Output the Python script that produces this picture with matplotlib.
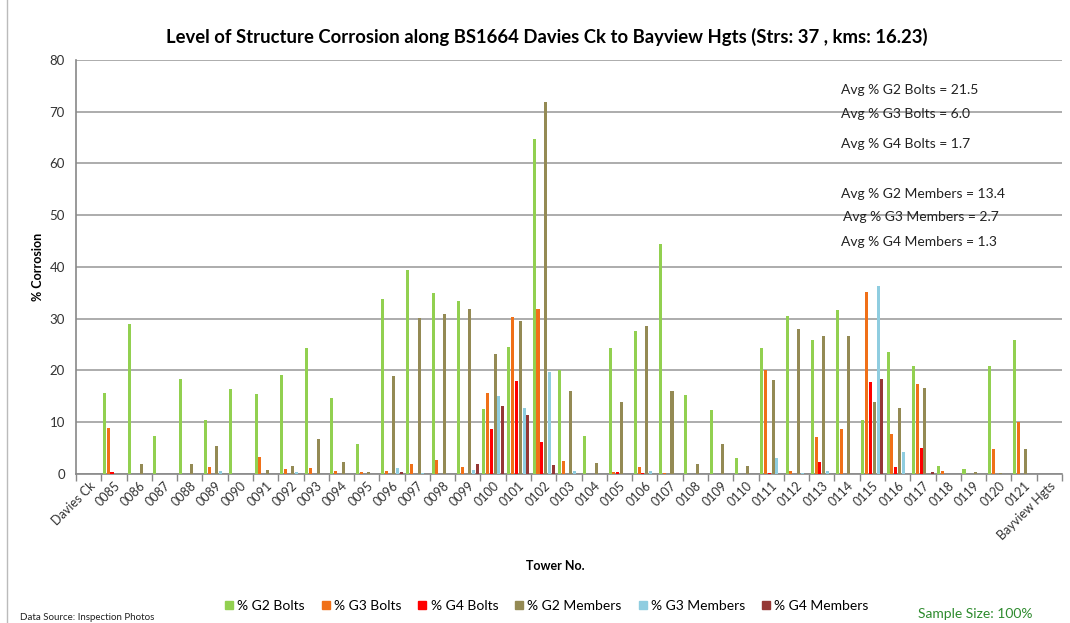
import numpy as np
import matplotlib.pyplot as plt
from matplotlib.lines import Line2D

plt.rcParams['font.family'] = ['Lato', 'DejaVu Sans']

towers = ["Davies Ck"] + ["%04d" % n for n in range(85, 122)] + ["Bayview Hgts"]

# % corrosion per tower (terminals at each end have no data)
g2_bolts = [0, 15.7, 29.0, 7.4, 18.4, 10.5, 16.5, 15.5, 19.1, 24.3, 14.6, 5.7, 33.9, 39.5,
            35.0, 33.5, 12.6, 24.6, 64.7, 20.0, 7.4, 24.3, 27.7, 44.5, 15.3, 12.3, 3.0,
            24.3, 30.6, 25.9, 31.6, 10.5, 23.6, 20.9, 1.6, 0.9, 20.9, 25.9, 0]
g3_bolts = [0, 8.8, 0, 0, 0, 1.3, 0, 3.2, 0.9, 1.1, 0.6, 0.3, 0.6, 2.0,
            2.65, 1.4, 15.7, 30.3, 31.8, 2.5, 0, 0.3, 1.4, 0.2, 0, 0, 0,
            20.1, 0.5, 7.2, 8.6, 35.1, 7.7, 17.4, 0.6, 0, 4.9, 10.1, 0]
g4_bolts = [0, 0.3, 0, 0, 0, 0, 0, 0, 0, 0, 0, 0, 0, 0,
            0, 0, 8.6, 18.0, 6.2, 0, 0, 0.3, 0.2, 0, 0, 0, 0,
            0.2, 0, 2.3, 0, 17.8, 1.3, 5.1, 0, 0, 0, 0, 0]
g2_members = [0, 0, 1.9, 0, 1.9, 5.5, 0, 0.8, 1.6, 6.7, 2.4, 0.3, 18.9, 30.1,
              30.9, 31.8, 23.1, 29.5, 71.9, 16.0, 2.1, 14.0, 28.6, 16.0, 1.9, 5.7, 1.5,
              18.1, 28.0, 26.7, 26.6, 14.0, 12.7, 16.7, 0, 0.3, 0.2, 4.9, 0]
g3_members = [0, 0, 0, 0, 0, 0.6, 0, 0, 0.3, 0, 0, 0, 1.2, 0.1,
              0, 0.8, 15.1, 12.7, 19.7, 0.6, 0, 0, 0.6, 0, 0, 0, 0,
              3.0, 0.1, 0.6, 0, 36.3, 4.3, 0, 0, 0, 0, 0, 0]
g4_members = [0, 0, 0, 0, 0, 0, 0, 0, 0, 0, 0, 0, 0.3, 0,
              0, 1.9, 13.2, 11.4, 1.8, 0, 0, 0, 0, 0, 0, 0, 0,
              0, 0, 0, 0, 18.4, 0, 0.3, 0, 0, 0, 0, 0]

series = [("% G2 Bolts", g2_bolts, "#92D050"),
          ("% G3 Bolts", g3_bolts, "#F07018"),
          ("% G4 Bolts", g4_bolts, "#FF0000"),
          ("% G2 Members", g2_members, "#948A54"),
          ("% G3 Members", g3_members, "#8FCDE0"),
          ("% G4 Members", g4_members, "#953735")]

averages = ["Avg % G2 Bolts = 21.5", "Avg % G3 Bolts = 6.0", "Avg % G4 Bolts = 1.7",
            "Avg % G2 Members = 13.4", "Avg % G3 Members = 2.7", "Avg % G4 Members = 1.3"]

fig = plt.figure(figsize=(10.70, 6.23), dpi=100)
ax = fig.add_axes([0.071, 0.2392, 0.9215, 0.6645])

x = np.arange(len(towers))
step = 0.15
width = 0.12
for k, (name, vals, col) in enumerate(series):
    ax.bar(x - 0.375 + k * step, vals, width, color=col, label=name, zorder=3)

ax.set_xlim(-0.5, len(towers) - 0.5)
ax.set_ylim(0, 80)
ax.set_yticks(range(0, 81, 10))
ax.yaxis.grid(True, color="#A6A6A6", linewidth=1.3, zorder=0)
ax.tick_params(axis="y", length=0, labelsize=9.5, colors="#333333", pad=8)

# tick marks sit between categories, labels in the middle
ax.set_xticks(np.arange(len(towers) + 1) - 0.5)
ax.set_xticklabels([])
ax.tick_params(axis="x", length=5, color="#888888", width=1)
ax.set_xticks(x, minor=True)
ax.set_xticklabels(towers, minor=True, rotation=45, ha="right", va="top",
                   rotation_mode="anchor", fontsize=9, color="#333333")
ax.tick_params(axis="x", which="minor", length=0, pad=4)

for side in ["top", "right"]:
    ax.spines[side].set_visible(False)
for side in ["left", "bottom"]:
    ax.spines[side].set_color("#888888")
    ax.spines[side].set_linewidth(1.2)

ax.set_ylabel("% Corrosion", fontsize=9, fontweight="bold", labelpad=4)
fig.text(0.519, 0.092, "Tower No.", ha="center", va="center", fontsize=9, fontweight="bold")

fig.text(0.511, 0.94, "Level of Structure Corrosion along BS1664 Davies Ck to Bayview Hgts (Strs: 37 , kms: 16.23)",
         ha="center", va="center", fontsize=13.3, fontweight="bold")

avg_y = [90, 114, 144, 194, 217, 242]
avg_x = [841, 841, 841, 841, 843, 841]
for t, xp, yp in zip(averages, avg_x, avg_y):
    fig.text(xp / 1070, 1 - yp / 623, t, ha="left", va="center", fontsize=10, color="#222222")

handles = [Line2D([], [], marker="s", linestyle="none", markersize=6,
                  markerfacecolor=c, markeredgecolor=c) for _, _, c in series]
fig.legend(handles, [s[0] for s in series], loc="center", bbox_to_anchor=(0.511, 0.028),
           ncol=6, frameon=False, fontsize=10, handlelength=0.6, handletextpad=0.3,
           columnspacing=1.2)

fig.text(20 / 1070, 1 - 617 / 623, "Data Source: Inspection Photos", ha="left", va="center",
         fontsize=7, color="#222222")
fig.text(1032 / 1070, 1 - 614 / 623, "Sample Size: 100%", ha="right", va="center",
         fontsize=10, color="#2E8B2E")

# outer frame edge on the left
fig.add_artist(Line2D([7 / 1070, 7 / 1070], [0, 1], transform=fig.transFigure,
                      color="#BBBBBB", linewidth=1))

fig.savefig("out.png", dpi=100)
